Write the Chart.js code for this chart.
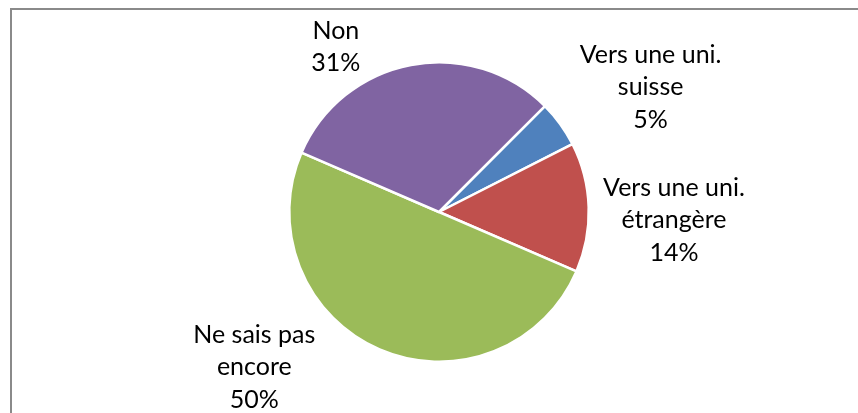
<!DOCTYPE html>
<html>
<head>
<meta charset="utf-8">
<script src="https://cdn.jsdelivr.net/npm/chart.js@4/dist/chart.umd.min.js"></script>
<style>
  html, body { margin:0; padding:0; background:#fff; }
  #wrap { position:relative; width:858px; height:413px; overflow:hidden; }
  #frame { position:absolute; left:10px; top:8px; width:900px; height:500px;
           border-left:2px solid #8a8a8a; border-top:2px solid #8a8a8a; }
  canvas { position:absolute; left:0; top:0; }
</style>
</head>
<body>
<div id="wrap">
  <div id="frame"></div>
  <canvas id="pie" width="858" height="413"></canvas>
</div>
<script>
// data
const labels = [['Vers une uni.', 'suisse'], ['Vers une uni.', 'étrangère'], ['Ne sais pas', 'encore'], ['Non']];
const values = [5, 14, 50, 31];
const colors = ['#4F81BD', '#C0504D', '#9BBB59', '#8064A2'];

// where Excel put each label: angle (deg, clockwise from top) and distance in radii
const labelSpots = [
  {angle: 59.5, dist: 1.64},
  {angle: 92,   dist: 1.57},
  {angle: 230,  dist: 1.61},
  {angle: 328,  dist: 1.30}
];

const pieLabels = {
  id: 'pieLabels',
  afterDatasetsDraw(chart) {
    const ctx = chart.ctx;
    const meta = chart.getDatasetMeta(0);
    const total = values.reduce((a, b) => a + b, 0);
    ctx.save();
    ctx.font = '25px Lato, "Liberation Sans", sans-serif';
    ctx.fillStyle = '#000';
    ctx.textAlign = 'center';
    ctx.textBaseline = 'middle';
    meta.data.forEach((arc, i) => {
      const spot = labelSpots[i];
      const a = spot.angle * Math.PI / 180;
      const r = arc.outerRadius * spot.dist;
      const cx = arc.x + Math.sin(a) * r;
      const cy = arc.y - Math.cos(a) * r;
      const lines = labels[i].concat([Math.round(values[i] / total * 100) + '%']);
      const lh = 32.5;
      lines.forEach((t, k) => {
        ctx.fillText(t, cx, cy + (k - (lines.length - 1) / 2) * lh);
      });
    });
    ctx.restore();
  }
};

new Chart(document.getElementById('pie'), {
  type: 'pie',
  data: {
    labels: labels,
    datasets: [{
      data: values,
      backgroundColor: colors,
      borderColor: '#fff',
      borderWidth: 2.5
    }]
  },
  options: {
    responsive: false,
    animation: false,
    rotation: 45,
    layout: { padding: { left: 288, right: 268, top: 61, bottom: 50 } },
    plugins: {
      legend: { display: false },
      tooltip: { enabled: false }
    }
  },
  plugins: [pieLabels]
});
</script>
</body>
</html>
